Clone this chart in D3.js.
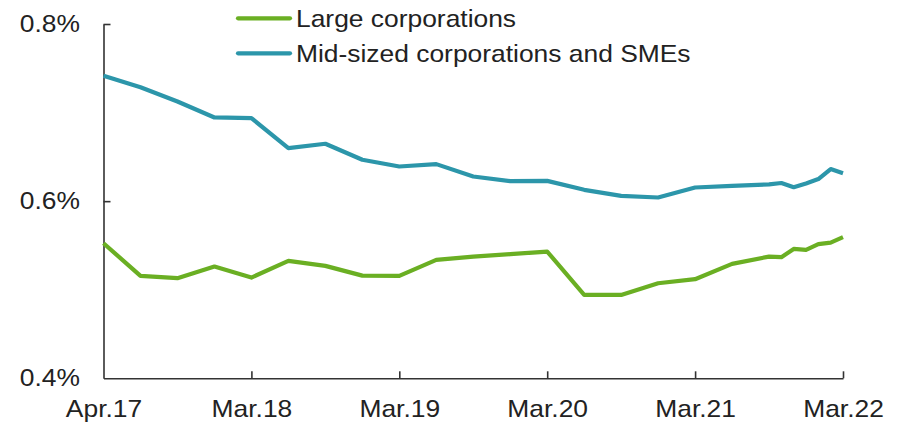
<!DOCTYPE html>
<html>
<head>
<meta charset="utf-8">
<script src="https://cdn.jsdelivr.net/npm/d3@7"></script>
<style>
  html, body { margin: 0; padding: 0; background: #fff; }
  svg { display: block; font-family: "Liberation Sans", Arial, sans-serif; }
</style>
</head>
<body>
<svg id="chart" width="904" height="422"></svg>
<script>
// Months elapsed since the first observation (first point labelled Apr.17)
const monthIndex = [0,3,6,9,12,15,18,21,24,27,30,33,36,39,42,45,48,51,54,55,56,57,58,59,60];
const largeCorp = [0.5525,0.5156,0.5130,0.5261,0.5137,0.5325,0.5269,0.5159,0.5156,0.5337,0.5374,0.5401,0.5431,0.4941,0.4941,0.5073,0.5119,0.5292,0.5374,0.5367,0.5461,0.5450,0.5514,0.5532,0.5593];
const midSME = [0.7416,0.7286,0.7125,0.6945,0.6938,0.6599,0.6648,0.6467,0.6391,0.6418,0.6278,0.6226,0.6229,0.6128,0.6060,0.6041,0.6154,0.6173,0.6189,0.6205,0.6158,0.6200,0.6249,0.6362,0.6316];
const xTickMonths = [0,12,24,36,48,60];
const xTickLabels = ["Apr.17","Mar.18","Mar.19","Mar.20","Mar.21","Mar.22"];
const yTicks = [0.4,0.6,0.8];
const seriesNames = ["Large corporations","Mid-sized corporations and SMEs"];
const seriesColors = ["#6AAF23","#2C96AA"];

const svg = d3.select("#chart");
const margin = {left: 103.5, right: 904 - 843, top: 24, bottom: 422 - 378.3};
const W = 904, H = 422;
const stretch = 1.1;

const x = d3.scaleLinear().domain([0, 60]).range([margin.left, W - margin.right]);
const y = d3.scaleLinear().domain([0.4, 0.8]).range([H - margin.bottom, margin.top]);

const axisColor = "#333";
const textColor = "#222";

// X axis
const xAxis = d3.axisBottom(x)
  .tickValues(xTickMonths)
  .tickFormat((d, i) => xTickLabels[i])
  .tickSizeInner(-7).tickSizeOuter(0).tickPadding(14);
const gx = svg.append("g").attr("transform", `translate(0,${y(0.4)})`).call(xAxis);
gx.select(".domain").attr("stroke", axisColor).attr("stroke-width", 1.6);
gx.selectAll(".tick line").attr("stroke", axisColor).attr("stroke-width", 1.6);
gx.selectAll(".tick").filter(d => d === 0).select("line").remove();
gx.selectAll(".tick text").attr("fill", textColor).attr("font-size", 24)
  .attr("font-family", "Liberation Sans, Arial, sans-serif").attr("dy", "0.71em")
  .attr("y", 22).attr("transform", `scale(${stretch},1)`);

// Y axis
const yAxis = d3.axisLeft(y)
  .tickValues(yTicks)
  .tickFormat(d => d.toFixed(1) + "%")
  .tickSizeInner(-7).tickSizeOuter(0).tickPadding(23);
const gy = svg.append("g").attr("transform", `translate(${x(0)},0)`).call(yAxis);
gy.select(".domain").attr("stroke", axisColor).attr("stroke-width", 1.6);
gy.selectAll(".tick line").attr("stroke", axisColor).attr("stroke-width", 1.6);
gy.selectAll(".tick").filter(d => d === 0.4).select("line").remove();
gy.selectAll(".tick text").attr("fill", textColor).attr("font-size", 24)
  .attr("font-family", "Liberation Sans, Arial, sans-serif")
  .attr("x", -23.5 / stretch).attr("transform", `scale(${stretch},1)`);

// Lines
const line = d3.line().x((d, i) => x(monthIndex[i])).y(d => y(d));
[largeCorp, midSME].forEach((s, k) => {
  svg.append("path").datum(s)
    .attr("fill", "none")
    .attr("stroke", seriesColors[k])
    .attr("stroke-width", 4.2)
    .attr("stroke-linejoin", "round")
    .attr("d", line);
});

// Legend
const legend = svg.append("g");
seriesNames.forEach((name, k) => {
  const cy = 18.3 + k * 35;
  legend.append("line")
    .attr("x1", 238).attr("x2", 290).attr("y1", cy).attr("y2", cy)
    .attr("stroke", seriesColors[k]).attr("stroke-width", 4.2).attr("stroke-linecap", "round");
  legend.append("text")
    .attr("transform", `translate(296,${cy}) scale(${stretch},1)`)
    .attr("dy", "0.36em")
    .attr("fill", textColor).attr("font-size", 24)
    .text(name);
});
</script>
</body>
</html>
